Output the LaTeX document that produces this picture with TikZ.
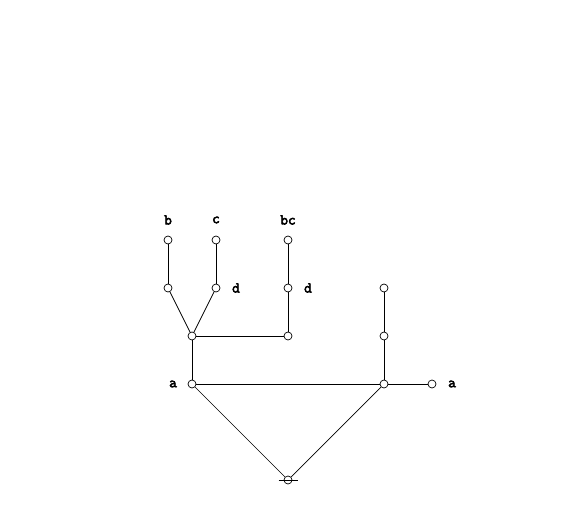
\documentclass[tikz,border=0pt]{standalone}
\usepackage{fontspec}
\newfontfamily\labfont{Latin Modern Mono}[FakeBold=3.5]
\usepackage{tikz}
\usetikzlibrary{calc}
\tikzset{
  vtx/.style={circle, draw, fill=white, line width=0.7pt, minimum size=8pt, inner sep=0pt},
  edge/.style={draw, line width=0.7pt},
  lab/.style={font=\fontsize{15}{17}\selectfont\labfont, inner sep=0pt}
}
\begin{document}
\begin{tikzpicture}[x=1pt,y=-1pt]
  \useasboundingbox (0,0) rectangle (578,530);
  % vertices
  \node[vtx] (b)  at (168,240) {};
  \node[vtx] (c)  at (216,240) {};
  \node[vtx] (bc) at (288,240) {};
  \node[vtx] (bd) at (168,288) {};
  \node[vtx] (cd) at (216,288) {};
  \node[vtx] (bcd) at (288,288) {};
  \node[vtx] (r1) at (384,288) {};
  \node[vtx] (m)  at (192,336) {};
  \node[vtx] (n)  at (288,336) {};
  \node[vtx] (r2) at (384,336) {};
  \node[vtx] (la) at (192,384) {};
  \node[vtx] (ra) at (384,384) {};
  \node[vtx] (ea) at (432,384) {};
  \node[vtx] (root) at (288,480) {};
  \draw[edge] ($(root)+(-9.5,0)$) -- ($(root)+(9.5,0)$);

  % edges
  \draw[edge] (b) -- (bd);
  \draw[edge] (c) -- (cd);
  \draw[edge] (bc) -- (bcd);
  \draw[edge] (bd) -- (m);
  \draw[edge] (cd) -- (m);
  \draw[edge] (bcd) -- (n);
  \draw[edge] (m) -- (n);
  \draw[edge] (m) -- (la);
  \draw[edge] (r1) -- (r2);
  \draw[edge] (r2) -- (ra);
  \draw[edge] (la) -- (ra);
  \draw[edge] (ra) -- (ea);
  \draw[edge] (la) -- (root);
  \draw[edge] (ra) -- (root);

  % labels
  \node[lab] at (168,220) {b};
  \node[lab] at (216,220) {c};
  \node[lab] at (288,220) {bc};
  \node[lab] at (236,288) {d};
  \node[lab] at (308,288) {d};
  \node[lab] at (173,384) {a};
  \node[lab] at (452,384) {a};
\end{tikzpicture}
\end{document}
